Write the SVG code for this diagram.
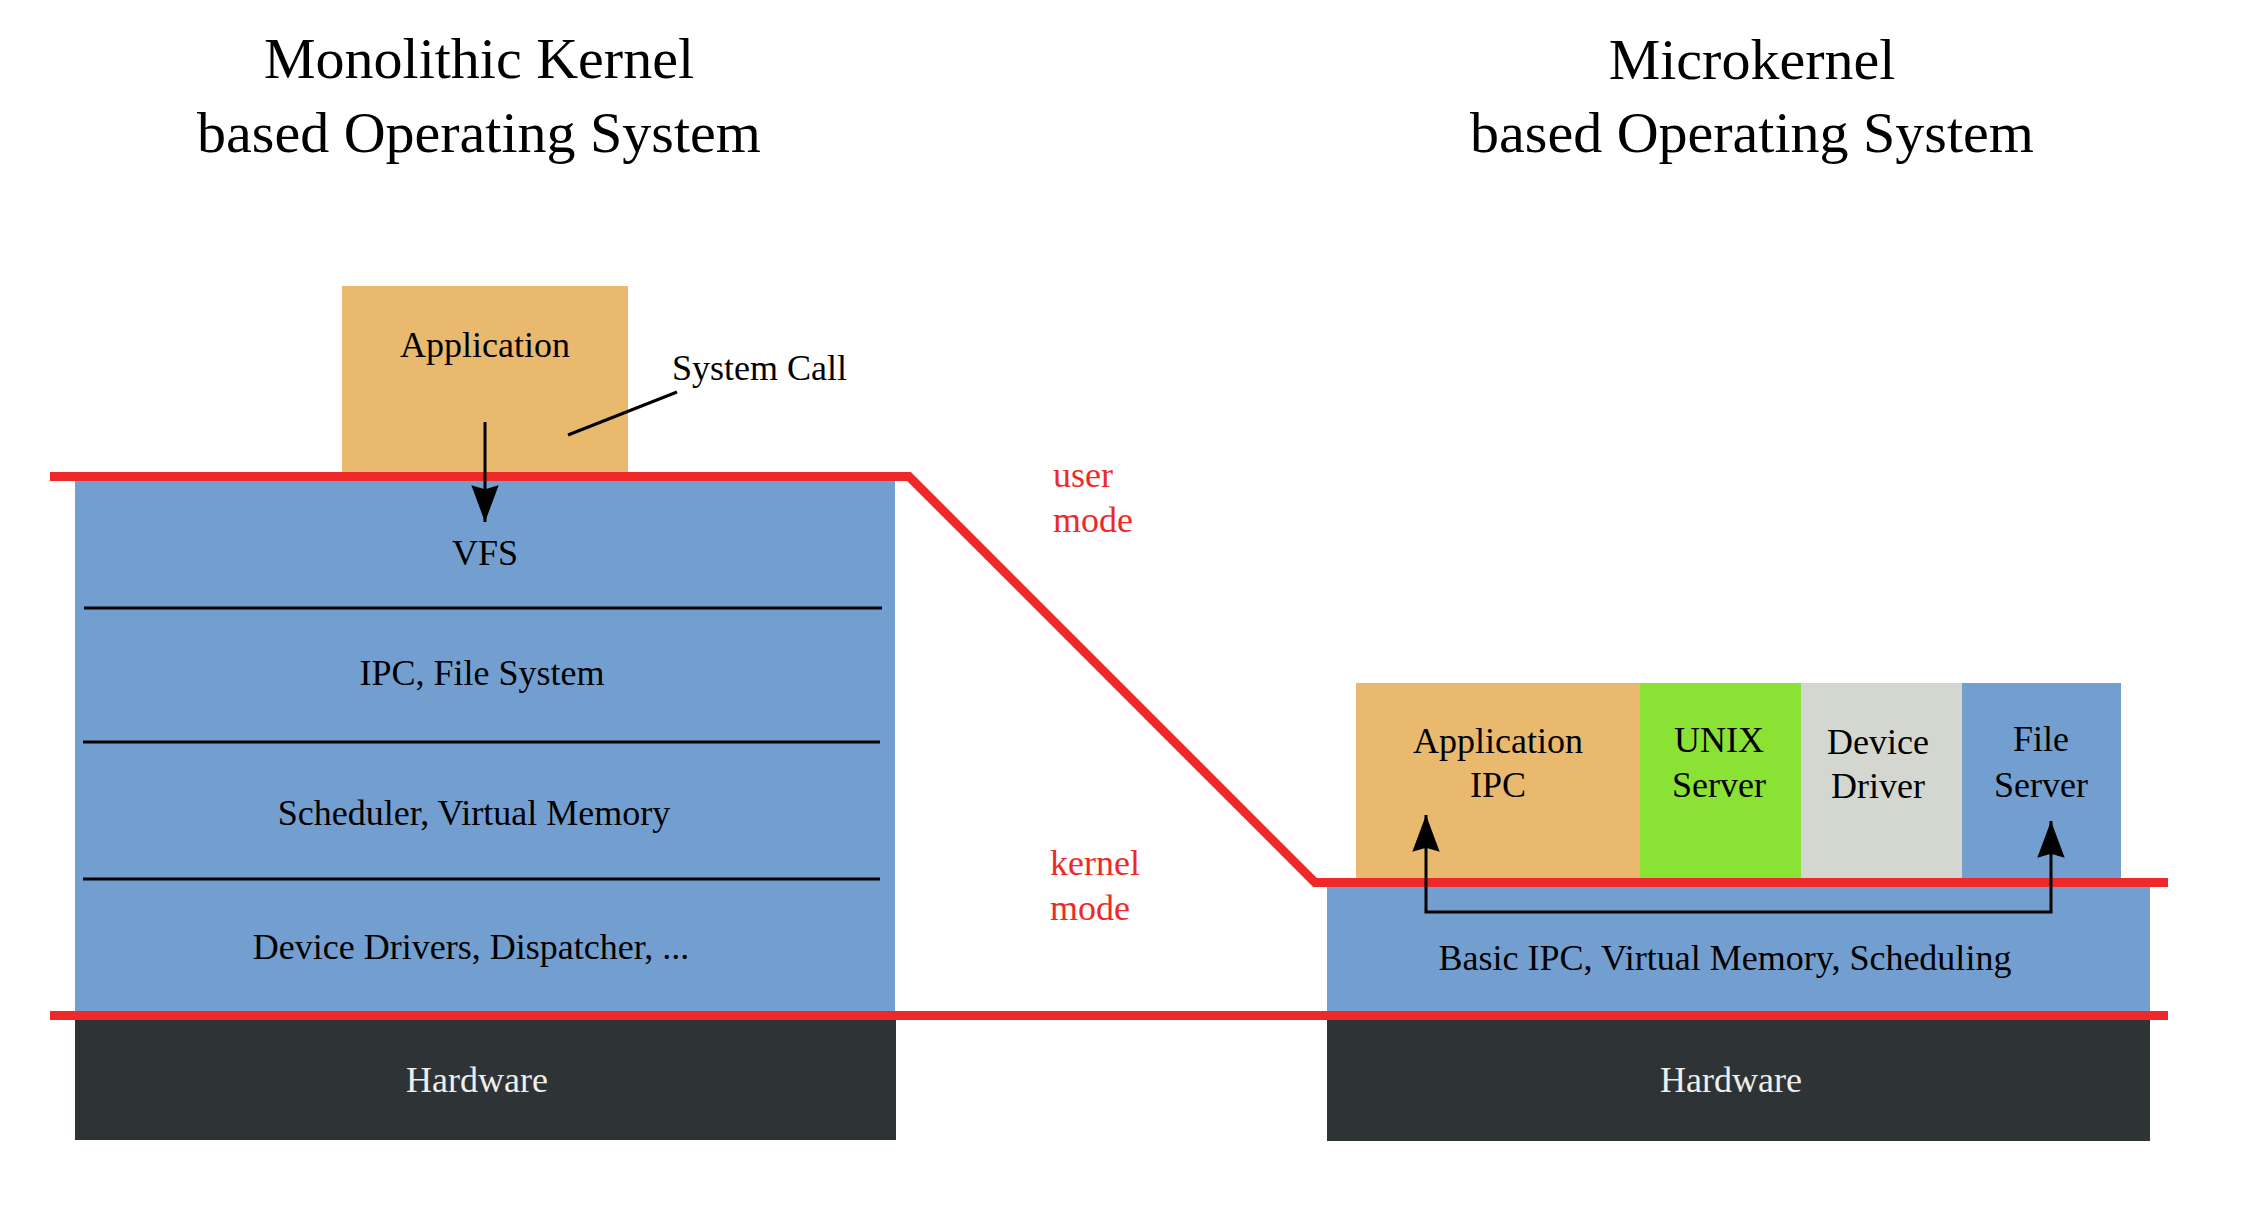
<svg xmlns="http://www.w3.org/2000/svg" width="2259" height="1220" viewBox="0 0 2259 1220">
<style>
text{font-family:"Liberation Serif","Times New Roman",serif;font-size:36px;fill:#000}
.c{text-anchor:middle}
.t{font-size:58px}
.w{fill:#eeeeec}
.r{fill:#ef2929}
.blue{fill:#729fcf}
.orange{fill:#e9b96e}
.green{fill:#8ae234}
.gray{fill:#d3d7cf}
.dark{fill:#2e3436}
.div{stroke:#000;stroke-width:3;fill:none}
.mode{stroke:#ef2929;stroke-width:9;fill:none;stroke-linejoin:miter}
.conn{stroke:#000;stroke-width:3;fill:none}
</style>
<defs>
<marker id="ah" markerUnits="userSpaceOnUse" markerWidth="40" markerHeight="30" viewBox="-36 -14 38 28" refX="0" refY="0" orient="auto-start-reverse">
<path d="M0,0 L-35,-13 L-31,0 L-35,13 Z" fill="#000"/>
</marker>
</defs>
<g id="titles">
<text class="c t" x="479" y="78">Monolithic Kernel</text>
<text class="c t" x="479" y="152">based Operating System</text>
<text class="c t" x="1752" y="79">Microkernel</text>
<text class="c t" x="1752" y="152">based Operating System</text>
</g>
<g id="mono-application">
<rect class="orange" x="342" y="286" width="286" height="190"/>
<text class="c" x="485" y="357">Application</text>
</g>
<g id="mono-kernel">
<rect class="blue" x="75" y="478" width="820" height="535"/>
<line class="div" x1="84" y1="608" x2="882" y2="608"/>
<line class="div" x1="83" y1="742" x2="880" y2="742"/>
<line class="div" x1="83" y1="879" x2="880" y2="879"/>
<text class="c" x="485" y="565">VFS</text>
<text class="c" x="482" y="685">IPC, File System</text>
<text class="c" x="474" y="825">Scheduler, Virtual Memory</text>
<text class="c" x="471" y="959">Device Drivers, Dispatcher, ...</text>
</g>
<g id="mono-hardware">
<rect class="dark" x="75" y="1018" width="821" height="122"/>
<text class="c w" x="477" y="1092">Hardware</text>
</g>
<g id="micro-application-ipc">
<rect class="orange" x="1356" y="683" width="284" height="197"/>
<text class="c" x="1498" y="753">Application</text>
<text class="c" x="1498" y="797">IPC</text>
</g>
<g id="micro-unix-server">
<rect class="green" x="1640" y="683" width="161" height="197"/>
<text class="c" x="1719" y="752">UNIX</text>
<text class="c" x="1719" y="797">Server</text>
</g>
<g id="micro-device-driver">
<rect class="gray" x="1801" y="683" width="161" height="197"/>
<text class="c" x="1878" y="754">Device</text>
<text class="c" x="1878" y="798">Driver</text>
</g>
<g id="micro-file-server">
<rect class="blue" x="1962" y="683" width="159" height="197"/>
<text class="c" x="2041" y="751">File</text>
<text class="c" x="2041" y="797">Server</text>
</g>
<g id="micro-kernel">
<rect class="blue" x="1327" y="884" width="823" height="129"/>
<text class="c" x="1725" y="970">Basic IPC, Virtual Memory, Scheduling</text>
</g>
<g id="micro-hardware">
<rect class="dark" x="1327" y="1018" width="823" height="123"/>
<text class="c w" x="1731" y="1092">Hardware</text>
</g>
<g id="mode-boundary">
<path class="mode" d="M50,476.5 L909,476.5 L1315,882.5 L2168,882.5"/>
<path class="mode" d="M50,1015.5 L2168,1015.5"/>
<text class="r" x="1053" y="487">user</text>
<text class="r" x="1053" y="532">mode</text>
<text class="r" x="1050" y="875">kernel</text>
<text class="r" x="1050" y="920">mode</text>
</g>
<g id="connectors">
<line class="conn" x1="485" y1="422" x2="485" y2="522" marker-end="url(#ah)"/>
<line class="conn" x1="568" y1="435" x2="677" y2="392"/>
<text x="672" y="380">System Call</text>
<path class="conn" d="M1426,815 L1426,912 L2051,912 L2051,821" marker-start="url(#ah)" marker-end="url(#ah)"/>
</g>
</svg>
